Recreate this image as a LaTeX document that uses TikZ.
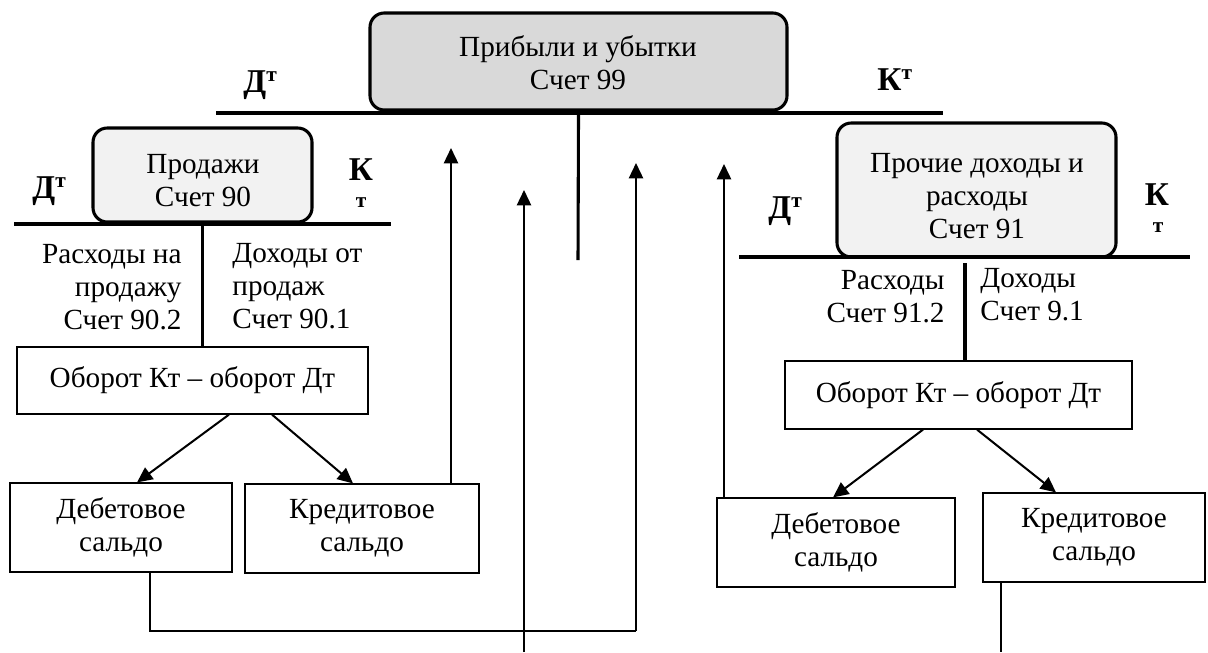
\documentclass[tikz,border=0pt]{standalone}
\usepackage{fontspec}
\setmainfont{Liberation Serif}
\usetikzlibrary{arrows.meta,calc,fit}

\definecolor{hdrgray}{HTML}{D9D9D9}
\definecolor{subgray}{HTML}{F2F2F2}

% small raised "т" after Д / К
\newcommand\tsup{\raisebox{4.5pt}{\fontsize{9}{9}\selectfont т}}

\begin{document}
\begin{tikzpicture}[x=0.421pt,y=-0.421pt,
  txt/.style={inner sep=0pt, font=\fontsize{12.3}{13.9}\selectfont},
  acct/.style={draw, line width=1.3pt, rounded corners=6pt, inner sep=0pt},
  plainbox/.style={draw, line width=0.5pt, inner sep=0pt, align=center,
                   font=\fontsize{12.3}{13.9}\selectfont},
  boxwh/.style 2 args={minimum width=#1*0.421pt, minimum height=#2*0.421pt},
  tline/.style={line width=1.3pt},
  arr/.style={line width=0.85pt, -{Triangle[length=6.5pt,width=6pt]}},
  thinline/.style={line width=0.5pt},
  side/.style={inner sep=0pt, font=\fontsize{14}{16}\selectfont\bfseries},
  sidesmall/.style={inner sep=0pt, font=\fontsize{9}{9}\selectfont\bfseries},
]
\useasboundingbox (0,0) rectangle (1208,652);

% ---- account 99 ----
\node[acct, fill=hdrgray, fit={(370,13)(787,110)}] (p99) {};
\node[txt, align=center] (p99t) at (578,63) {Прибыли и убытки\\Счет 99};
\coordinate (t99l) at (216,113);
\coordinate (t99r) at (943,113);
\coordinate (s99) at (578,260);
\draw[tline] (t99l) -- (t99r);
\draw[tline] (p99.south |- t99l) -- (s99);
\node[side, anchor=base west] (dt99) at (243,92) {Д\tsup};
\node[side, anchor=base west] (kt99) at (877,90) {К\tsup};

% ---- account 90 ----
\node[acct, fill=subgray, fit={(93,128)(312,222)}] (p90) {};
\node[txt, align=center] (p90t) at (203,181) {Продажи\\Счет 90};
\coordinate (t90l) at (14,224);
\coordinate (t90r) at (391,224);
\draw[tline] (t90l) -- (t90r);
\node[side, anchor=base west] (dt90) at (32,198) {Д\tsup};
\node[side, anchor=base] (k90l) at (361,180) {К};
\node[sidesmall, anchor=base] (k90s) at (361,207) {т};
\node[txt, align=right, anchor=east] (r90) at (182,287) {Расходы на\\продажу\\Счет 90.2};
\node[txt, align=left, anchor=west] (i90) at (232,286) {Доходы от\\продаж\\Счет 90.1};

\node[plainbox, boxwh={351}{67}] (o90) at (192.5,380.5) {Оборот Кт -- оборот Дт};
\draw[tline] (p90.south |- t90l) -- (p90.south |- o90.north);

\node[plainbox, boxwh={222}{89}] (d90) at (121,527.5) {Дебетовое\\сальдо};
\node[plainbox, boxwh={234}{89}] (k90) at (362,528.5) {Кредитовое\\сальдо};
\draw[arr] ($(o90.south)+(36.5,0)$) -- ($(d90.north)+(16,0)$);
\draw[arr] ($(o90.south)+(79.5,0)$) -- ($(k90.north)+(-9,0)$);

% ---- account 91 ----
\node[acct, fill=subgray, fit={(837,123)(1116,257)}] (p91) {};
\node[txt, align=center] (p91t) at (977,196) {Прочие доходы и\\расходы\\Счет 91};
\coordinate (t91l) at (739,257);
\coordinate (t91r) at (1190,257);
\coordinate (s91) at (965,263);
\draw[tline] (t91l) -- (t91r);
\node[side, anchor=base west] (dt91) at (768,218) {Д\tsup};
\node[side, anchor=base] (k91l) at (1157,205) {К};
\node[sidesmall, anchor=base] (k91s) at (1158,232) {т};
\node[txt, align=right, anchor=east] (r91) at (945,297) {Расходы\\Счет 91.2};
\node[txt, align=left, anchor=west] (i91) at (980,295) {Доходы\\Счет 9.1};

\node[plainbox, boxwh={347}{68}] (o91) at (958.5,395) {Оборот Кт -- оборот Дт};
\draw[tline] (s91) -- (s91 |- o91.north);

\node[plainbox, boxwh={238}{89}] (d91) at (836,542.5) {Дебетовое\\сальдо};
\node[plainbox, boxwh={222}{89}] (k91) at (1094,537.5) {Кредитовое\\сальдо};
\draw[arr] ($(o91.south)+(-35.5,0)$) -- ($(d91.north)+(-3,0)$);
\draw[arr] ($(o91.south)+(18.5,0)$) -- ($(k91.north)+(-38,0)$);

% ---- closing flows into account 99 ----
\coordinate (a1) at (451,148);
\draw[arr] (k90.north -| a1) -- (a1);

\coordinate (b0) at (524,652);
\coordinate (b1) at (524,190);
\draw[arr] (b0) -- (b1);

\coordinate (c0) at (636,631);
\coordinate (c1) at (636,163);
\draw[thinline] ($(d90.south)+(29,0)$) |- (c0);
\draw[arr] (c0) -- (c1);

\coordinate (e1) at (724,164);
\draw[arr] (d91.north -| e1) -- (e1);

\coordinate (k91end) at (1001,652);
\draw[thinline] (k91.south -| k91end) -- (k91end);
\end{tikzpicture}
\end{document}
